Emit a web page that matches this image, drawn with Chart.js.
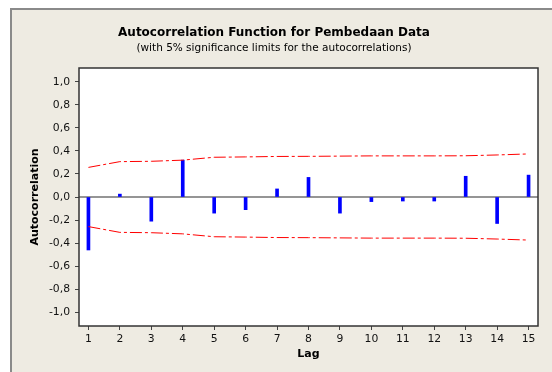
<!DOCTYPE html>
<html>
<head>
<meta charset="utf-8">
<script src="https://cdn.jsdelivr.net/npm/chart.js@4.4.0/dist/chart.umd.min.js"></script>
<style>
  html, body { margin: 0; padding: 0; background: #ffffff; }
  canvas { display: block; }
</style>
</head>
<body>
<canvas id="acf" width="552" height="372"></canvas>
<script>
'use strict';

// lags and autocorrelations
const lags = [1, 2, 3, 4, 5, 6, 7, 8, 9, 10, 11, 12, 13, 14, 15];
const acf = [-0.46, 0.025, -0.21, 0.32, -0.14, -0.11, 0.07, 0.17, -0.14, -0.04, -0.035, -0.035, 0.18, -0.23, 0.19];
// upper 5% significance limit (lower is the mirror)
const upperLimit = [0.257, 0.307, 0.31, 0.32, 0.345, 0.348, 0.352, 0.353, 0.355, 0.357, 0.357, 0.357, 0.358, 0.365, 0.374];
const lowerLimit = upperLimit.map(v => -v);
const yTicks = [-1.0, -0.8, -0.6, -0.4, -0.2, 0.0, 0.2, 0.4, 0.6, 0.8, 1.0];

const FONT = "'DejaVu Sans', Verdana, sans-serif";

function toPoints(values) {
  return lags.map((lag, i) => ({ x: lag, y: values[i] }));
}

// beige frame, white plot area, zero line and plot border
const framePlugin = {
  id: 'frame',
  beforeDraw(chart) {
    const ctx = chart.ctx;
    const area = chart.chartArea;
    ctx.save();
    ctx.fillStyle = '#ffffff';
    ctx.fillRect(0, 0, chart.width, chart.height);
    ctx.fillStyle = '#eeebe2';
    ctx.fillRect(10, 8, chart.width, chart.height);
    ctx.strokeStyle = '#8a8a8a';
    ctx.lineWidth = 2;
    ctx.beginPath();
    ctx.moveTo(11, chart.height + 2);
    ctx.lineTo(11, 9);
    ctx.lineTo(chart.width + 2, 9);
    ctx.stroke();
    ctx.fillStyle = '#ffffff';
    ctx.fillRect(area.left, area.top, area.right - area.left, area.bottom - area.top);
    ctx.restore();
  },
  beforeDatasetsDraw(chart) {
    const ctx = chart.ctx;
    const area = chart.chartArea;
    const y0 = chart.scales.y.getPixelForValue(0);
    ctx.save();
    ctx.strokeStyle = '#959595';
    ctx.lineWidth = 2;
    ctx.beginPath();
    ctx.moveTo(area.left, y0);
    ctx.lineTo(area.right, y0);
    ctx.stroke();
    ctx.restore();
  },
  afterDatasetsDraw(chart) {
    const ctx = chart.ctx;
    const area = chart.chartArea;
    ctx.save();
    ctx.strokeStyle = '#333333';
    ctx.lineWidth = 1.5;
    ctx.strokeRect(area.left, area.top, area.right - area.left, area.bottom - area.top);
    ctx.restore();
  }
};

const chart = new Chart(document.getElementById('acf'), {
  type: 'bar',
  data: {
    datasets: [
      {
        type: 'line',
        label: 'Upper limit',
        data: toPoints(upperLimit),
        borderColor: '#ff0000',
        borderWidth: 1,
        borderDash: [12, 3, 3, 3],
        pointRadius: 0,
        tension: 0,
        fill: false
      },
      {
        type: 'line',
        label: 'Lower limit',
        data: toPoints(lowerLimit),
        borderColor: '#ff0000',
        borderWidth: 1,
        borderDash: [12, 3, 3, 3],
        pointRadius: 0,
        tension: 0,
        fill: false
      },
      {
        type: 'bar',
        label: 'Autocorrelation',
        data: toPoints(acf),
        backgroundColor: '#0000ff',
        borderWidth: 0,
        barThickness: 3
      }
    ]
  },
  options: {
    responsive: false,
    animation: false,
    devicePixelRatio: 1,
    layout: { padding: { top: 8, left: 10, right: 14, bottom: 0 } },
    plugins: {
      legend: { display: false },
      tooltip: { enabled: false },
      title: {
        display: true,
        text: 'Autocorrelation Function for Pembedaan Data',
        color: '#000000',
        font: { family: FONT, size: 12, weight: 'bold', lineHeight: 1.2 },
        padding: { top: 17.8, bottom: 0 }
      },
      subtitle: {
        display: true,
        text: '(with 5% significance limits for the autocorrelations)',
        color: '#000000',
        font: { family: FONT, size: 10.5, lineHeight: 1.2 },
        padding: { top: 1.5, bottom: 13.7 }
      }
    },
    scales: {
      x: {
        type: 'linear',
        min: 0.7,
        max: 15.3,
        offset: false,
        afterFit: s => { s.height = 46; },
        afterBuildTicks: s => { s.ticks = lags.map(v => ({ value: v })); },
        grid: { offset: false, drawOnChartArea: false, drawTicks: true, tickLength: 4, color: '#444444' },
        border: { display: false },
        ticks: {
          color: '#111111',
          font: { family: FONT, size: 10.8 },
          padding: 3,
          maxRotation: 0,
          autoSkip: false,
          callback: v => String(v)
        },
        title: {
          display: true,
          text: 'Lag',
          color: '#000000',
          font: { family: FONT, size: 11, weight: 'bold', lineHeight: 1.2 },
          padding: { top: 0, bottom: 11.4 }
        }
      },
      y: {
        min: -1.12,
        max: 1.12,
        afterFit: s => { s.width = 69; },
        afterBuildTicks: s => { s.ticks = yTicks.map(v => ({ value: v })); },
        grid: { drawOnChartArea: false, drawTicks: true, tickLength: 4, color: '#444444' },
        border: { display: false },
        ticks: {
          color: '#111111',
          font: { family: FONT, size: 10.8 },
          padding: 5,
          autoSkip: false,
          callback: v => v.toFixed(1).replace('.', ',')
        },
        title: {
          display: true,
          text: 'Autocorrelation',
          color: '#000000',
          font: { family: FONT, size: 11, weight: 'bold', lineHeight: 1.2 },
          padding: { top: 18.4, bottom: 0 }
        }
      }
    }
  },
  plugins: [framePlugin]
});
</script>
</body>
</html>
